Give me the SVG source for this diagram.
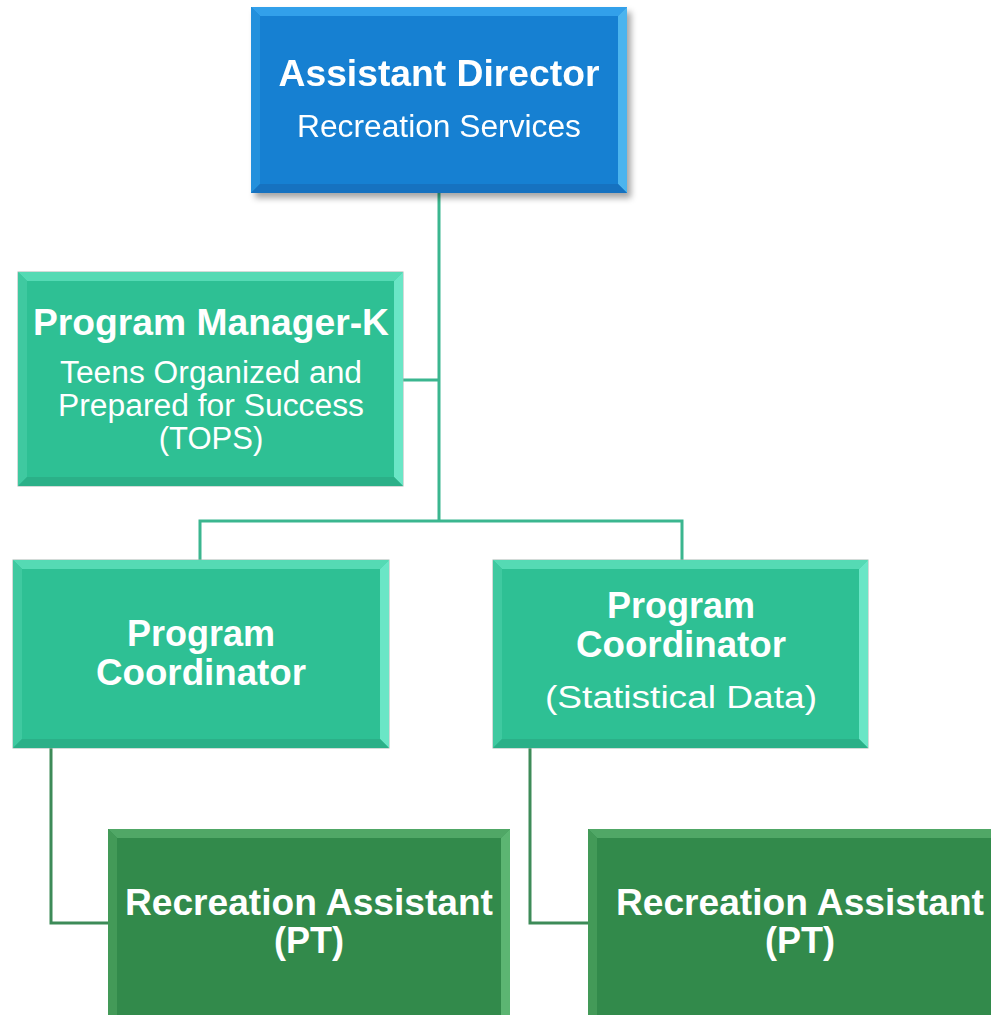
<svg xmlns="http://www.w3.org/2000/svg" width="991" height="1015" viewBox="0 0 991 1015">
<defs>
<filter id="sh" x="-10%" y="-10%" width="125%" height="130%">
<feDropShadow dx="4" dy="5" stdDeviation="3" flood-color="#000" flood-opacity="0.35"/>
</filter>
<style>
text{font-family:"Liberation Sans",Arial,sans-serif;fill:#fff;text-anchor:middle}
.t{font-weight:bold;font-size:36px}
.s{font-size:31px}
.bl .base{fill:#1480d2}.bl .tp{fill:#33a0ea}.bl .lf{fill:#2190dc}.bl .rt{fill:#4cb4ee}.bl .bt{fill:#1272c0}
.tl .base{fill:#2ec094;stroke:#a8b8b2;stroke-width:1}.tl .tp{fill:#55dab4}.tl .lf{fill:#3fc9a0}.tl .rt{fill:#6ae6c6}.tl .bt{fill:#2bb088}
.dg .base{fill:#328a4b}.dg .tp{fill:#50a766}.dg .lf{fill:#439a58}.dg .rt{fill:#5cb572}.dg .bt{fill:#2e8046}
.c1{fill:none;stroke:#3bb68f;stroke-width:3}
.c2{fill:none;stroke:#3d8b58;stroke-width:3}
</style>
</defs>
<rect width="991" height="1015" fill="#fff"/>
<g id="connectors">
<path class="c1" d="M439 193V521M403 380H439M200 560V521H682V560"/>
<path class="c2" d="M51 748V923H108M530 748V923H588"/>
</g>
<g id="assistant-director" class="bl" filter="url(#sh)">
<rect class="base" x="251" y="7" width="376" height="186"/>
<polygon class="tp" points="251,7 627,7 618,16 260,16"/>
<polygon class="lf" points="251,7 260,16 260,184 251,193"/>
<polygon class="rt" points="627,7 627,193 618,184 618,16"/>
<polygon class="bt" points="251,193 260,184 618,184 627,193"/>
<text class="t" x="439" y="86" textLength="321" lengthAdjust="spacingAndGlyphs">Assistant Director</text>
<text class="s" x="439" y="137" textLength="284" lengthAdjust="spacingAndGlyphs">Recreation Services</text>
</g>
<g id="program-manager" class="tl">
<rect class="base" x="18" y="272" width="385" height="214"/>
<polygon class="tp" points="18,272 403,272 394,281 27,281"/>
<polygon class="lf" points="18,272 27,281 27,477 18,486"/>
<polygon class="rt" points="403,272 403,486 394,477 394,281"/>
<polygon class="bt" points="18,486 27,477 394,477 403,486"/>
<text class="t" x="211" y="335" textLength="356" lengthAdjust="spacingAndGlyphs">Program Manager-K</text>
<text class="s" x="211" y="383" textLength="302" lengthAdjust="spacingAndGlyphs">Teens Organized and</text>
<text class="s" x="211" y="416" textLength="306" lengthAdjust="spacingAndGlyphs">Prepared for Success</text>
<text class="s" x="211" y="449">(TOPS)</text>
</g>
<g id="program-coordinator-1" class="tl">
<rect class="base" x="13" y="560" width="376" height="188"/>
<polygon class="tp" points="13,560 389,560 380,569 22,569"/>
<polygon class="lf" points="13,560 22,569 22,739 13,748"/>
<polygon class="rt" points="389,560 389,748 380,739 380,569"/>
<polygon class="bt" points="13,748 22,739 380,739 389,748"/>
<text class="t" x="201" y="646">Program</text>
<text class="t" x="201" y="685" textLength="210" lengthAdjust="spacingAndGlyphs">Coordinator</text>
</g>
<g id="program-coordinator-2" class="tl">
<rect class="base" x="493" y="560" width="375" height="188"/>
<polygon class="tp" points="493,560 868,560 859,569 502,569"/>
<polygon class="lf" points="493,560 502,569 502,739 493,748"/>
<polygon class="rt" points="868,560 868,748 859,739 859,569"/>
<polygon class="bt" points="493,748 502,739 859,739 868,748"/>
<text class="t" x="681" y="618">Program</text>
<text class="t" x="681" y="657" textLength="210" lengthAdjust="spacingAndGlyphs">Coordinator</text>
<text class="s" x="681" y="708" textLength="272" lengthAdjust="spacingAndGlyphs">(Statistical Data)</text>
</g>
<g id="recreation-assistant-1" class="dg">
<rect class="base" x="108" y="829" width="402" height="200"/>
<polygon class="tp" points="108,829 510,829 501,838 117,838"/>
<polygon class="lf" points="108,829 117,838 117,1029 108,1029"/>
<polygon class="rt" points="510,829 510,1029 501,1029 501,838"/>
<text class="t" x="309" y="915" textLength="368" lengthAdjust="spacingAndGlyphs">Recreation Assistant</text>
<text class="t" x="309" y="953">(PT)</text>
</g>
<g id="recreation-assistant-2" class="dg">
<rect class="base" x="588" y="829" width="420" height="200"/>
<polygon class="tp" points="588,829 1008,829 999,838 597,838"/>
<polygon class="lf" points="588,829 597,838 597,1029 588,1029"/>
<text class="t" x="800" y="915" textLength="368" lengthAdjust="spacingAndGlyphs">Recreation Assistant</text>
<text class="t" x="800" y="953">(PT)</text>
</g>
</svg>
